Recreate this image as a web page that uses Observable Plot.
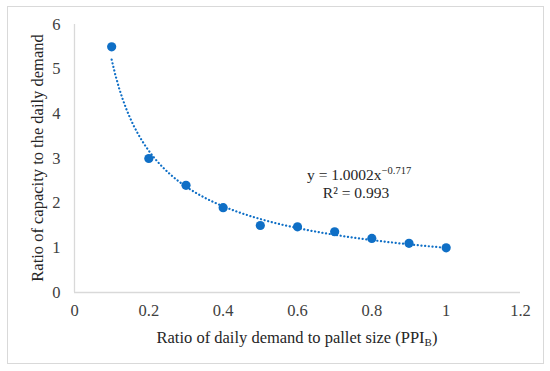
<!DOCTYPE html>
<html>
<head>
<meta charset="utf-8">
<script src="https://cdn.jsdelivr.net/npm/d3@7"></script>
<script src="https://cdn.jsdelivr.net/npm/@observablehq/plot@0.6"></script>
<style>
  html, body { margin: 0; padding: 0; background: #fff; }
  #wrap { position: relative; width: 550px; height: 371px; }
  #border { position: absolute; left: 7px; top: 6px; width: 537px; height: 358px; border: 1px solid #d9d9d9; box-sizing: border-box; pointer-events: none; }
  #wrap svg text { font-family: 'Liberation Serif', 'Times New Roman', serif; }
</style>
</head>
<body>
<div id="wrap"><div id="border"></div></div>
<script>
// Data
const xValues = [0.1, 0.2, 0.3, 0.4, 0.5, 0.6, 0.7, 0.8, 0.9, 1.0];
const yValues = [5.5, 3.0, 2.4, 1.9, 1.5, 1.47, 1.36, 1.21, 1.1, 1.0];
const xTicks = [0, 0.2, 0.4, 0.6, 0.8, 1, 1.2];
const yTicks = [0, 1, 2, 3, 4, 5, 6];
// Power trendline coefficients shown on the chart: y = a * x^b
const fitA = 1.0002;
const fitB = -0.717;
const fitR2 = "0.993";

const points = xValues.map((x, i) => ({x, y: yValues[i]}));
const trend = d3.range(0.1, 1.0001, 0.01).map(x => ({x, y: fitA * Math.pow(x, fitB)}));

const blue = "#0f6fc6";
const font = "'Liberation Serif', 'Times New Roman', serif";

const chart = Plot.plot({
  width: 550,
  height: 371,
  marginLeft: 74,
  marginRight: 30,
  marginTop: 24,
  marginBottom: 79,
  style: {fontFamily: font, fontSize: "16.5px", color: "#404040", background: "transparent"},
  x: {domain: [0, 1.2], ticks: xTicks, tickFormat: d => String(d), label: null},
  y: {domain: [0, 6], ticks: yTicks, tickFormat: d => String(d), label: null},
  marks: [
    Plot.ruleY([0], {stroke: "#d9d9d9", strokeWidth: 1.3}),
    Plot.ruleX([0], {stroke: "#d9d9d9", strokeWidth: 1.3}),
    Plot.axisX({ticks: xTicks, tickSize: 0, tickPadding: 12, tickFormat: d => String(d), label: null, fill: "#404040", fontSize: 16.5}),
    Plot.axisY({ticks: yTicks, tickSize: 0, tickPadding: 14, tickFormat: d => String(d), label: null, fill: "#404040", fontSize: 16.5}),
    Plot.line(trend, {x: "x", y: "y", stroke: blue, strokeWidth: 2.2, strokeDasharray: "0.1,3.6", strokeLinecap: "round", curve: "linear"}),
    Plot.dot(points, {x: "x", y: "y", r: 4.6, fill: blue, stroke: "none"})
  ]
});
chart.style.position = "absolute";
chart.style.left = "0";
chart.style.top = "0";
document.getElementById("wrap").appendChild(chart);

const svg = d3.select(chart);
const txt = "#262626";

// X axis title with subscript
const xt = svg.append("text")
  .attr("x", 297).attr("y", 343)
  .attr("text-anchor", "middle")
  .attr("font-family", font).attr("font-size", 16.5).attr("fill", txt);
xt.append("tspan").text("Ratio of daily demand to pallet size (PPI");
xt.append("tspan").attr("font-size", 11).attr("dy", 3).text("B");
xt.append("tspan").attr("dy", -3).text(")");

// Y axis title
svg.append("text")
  .attr("transform", "translate(43,158) rotate(-90)")
  .attr("text-anchor", "middle")
  .attr("font-family", font).attr("font-size", 16.5).attr("fill", txt)
  .text("Ratio of capacity to the daily demand");

// Equation label
const eq = svg.append("text")
  .attr("x", 307).attr("y", 180)
  .attr("text-anchor", "start")
  .attr("font-family", font).attr("font-size", 15.5).attr("fill", txt);
eq.append("tspan").text("y = " + fitA.toFixed(4) + "x");
eq.append("tspan").attr("font-size", 10.5).attr("dy", -6).text("\u22120.717");
svg.append("text")
  .attr("x", 356).attr("y", 198)
  .attr("text-anchor", "middle")
  .attr("font-family", font).attr("font-size", 15.5).attr("fill", txt)
  .text("R\u00b2 = " + fitR2);
</script>
</body>
</html>
